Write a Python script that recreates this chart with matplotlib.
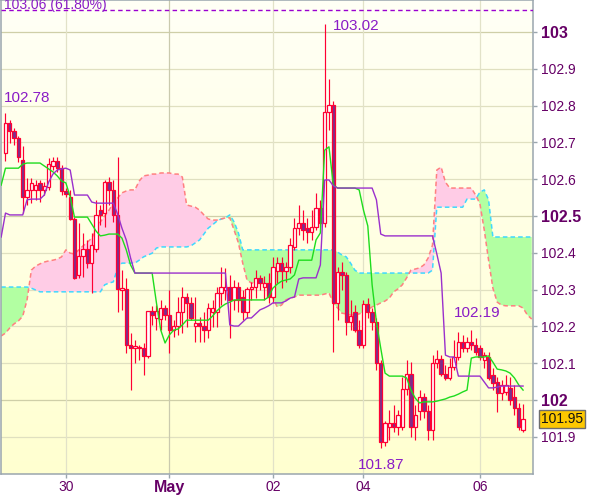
import numpy as np
import matplotlib
matplotlib.use("Agg")
import matplotlib.pyplot as plt
import matplotlib.transforms as mtransforms
from matplotlib.colors import LinearSegmentedColormap

plt.rcParams['font.family'] = ['Liberation Sans', 'DejaVu Sans']

# ---------------- data (hourly bars, index 0..120) ----------------
opens = [102.671, 102.753, 102.731, 102.712, 102.652, 102.552, 102.571, 102.571, 102.590, 102.571,
         102.579, 102.636, 102.649, 102.630, 102.568, 102.552, 102.492, 102.340, 102.391, 102.410,
         102.372, 102.410, 102.516, 102.508, 102.592, 102.571, 102.503, 102.300, 102.302, 102.150,
         102.141, 102.141, 102.141, 102.120, 102.242, 102.223, 102.220, 102.250, 102.231, 102.190,
         102.201, 102.239, 102.280, 102.264, 102.201, 102.209, 102.201, 102.190, 102.239, 102.239,
         102.291, 102.299, 102.307, 102.272, 102.307, 102.280, 102.239, 102.302, 102.307, 102.332,
         102.307, 102.318, 102.280, 102.351, 102.372, 102.351, 102.361, 102.416, 102.467, 102.481,
         102.467, 102.457, 102.470, 102.522, 102.481, 102.783, 102.802, 102.264, 102.348, 102.340,
         102.212, 102.239, 102.190, 102.150, 102.261, 102.239, 102.212, 102.101, 101.886, 101.927,
         101.938, 101.927, 101.927, 102.030, 102.071, 101.927, 101.970, 102.008, 101.970, 101.918,
         102.101, 102.111, 102.071, 102.060, 102.090, 102.117, 102.158, 102.141, 102.158, 102.150,
         102.141, 102.109, 102.117, 102.068, 102.049, 102.019, 102.022, 102.033, 102.008, 101.978,
         101.918]
highs = [102.780, 102.761, 102.739, 102.717, 102.690, 102.603, 102.603, 102.598, 102.598, 102.592,
         102.658, 102.660, 102.660, 102.639, 102.576, 102.571, 102.497, 102.482, 102.454, 102.435,
         102.454, 102.544, 102.530, 102.598, 102.606, 102.598, 102.660, 102.353, 102.332, 102.182,
         102.163, 102.150, 102.155, 102.242, 102.256, 102.258, 102.272, 102.258, 102.299, 102.217,
         102.280, 102.307, 102.291, 102.280, 102.280, 102.226, 102.239, 102.264, 102.272, 102.307,
         102.361, 102.359, 102.340, 102.326, 102.321, 102.299, 102.307, 102.321, 102.353, 102.340,
         102.337, 102.345, 102.389, 102.389, 102.389, 102.375, 102.440, 102.495, 102.530, 102.516,
         102.495, 102.516, 102.563, 102.544, 103.022, 102.872, 102.812, 102.361, 102.375, 102.348,
         102.272, 102.258, 102.217, 102.272, 102.277, 102.250, 102.223, 102.109, 101.943, 101.973,
         101.986, 101.973, 102.063, 102.109, 102.103, 101.986, 102.027, 102.019, 101.986, 102.122,
         102.136, 102.122, 102.095, 102.114, 102.163, 102.185, 102.177, 102.171, 102.190, 102.169,
         102.150, 102.130, 102.130, 102.087, 102.063, 102.054, 102.068, 102.063, 102.041, 101.992,
         101.989]
lows = [102.649, 102.698, 102.693, 102.647, 102.508, 102.530, 102.535, 102.544, 102.538, 102.557,
        102.571, 102.625, 102.620, 102.557, 102.552, 102.489, 102.330, 102.332, 102.334, 102.359,
        102.291, 102.402, 102.476, 102.470, 102.530, 102.484, 102.239, 102.245, 102.128, 102.027,
        102.101, 102.109, 102.068, 102.114, 102.204, 102.190, 102.190, 102.217, 102.128, 102.171,
        102.177, 102.182, 102.198, 102.217, 102.158, 102.158, 102.158, 102.169, 102.198, 102.198,
        102.258, 102.272, 102.169, 102.245, 102.239, 102.217, 102.223, 102.272, 102.277, 102.299,
        102.272, 102.264, 102.264, 102.318, 102.304, 102.321, 102.345, 102.408, 102.448, 102.435,
        102.427, 102.435, 102.462, 102.470, 102.470, 102.734, 102.130, 102.217, 102.299, 102.177,
        102.190, 102.185, 102.141, 102.141, 102.223, 102.190, 102.082, 101.870, 101.875, 101.891,
        101.913, 101.905, 101.918, 102.014, 101.899, 101.891, 101.946, 101.951, 101.891, 101.891,
        102.087, 102.065, 102.054, 102.054, 102.082, 102.109, 102.130, 102.130, 102.136, 102.122,
        102.109, 102.087, 102.054, 102.027, 101.967, 102.000, 102.014, 101.986, 101.959, 101.918,
        101.913]
closes = [102.753, 102.731, 102.712, 102.660, 102.552, 102.571, 102.590, 102.584, 102.571, 102.582,
          102.641, 102.649, 102.630, 102.568, 102.560, 102.492, 102.332, 102.391, 102.410, 102.372,
          102.421, 102.503, 102.503, 102.592, 102.571, 102.503, 102.302, 102.305, 102.150, 102.141,
          102.147, 102.144, 102.120, 102.242, 102.231, 102.242, 102.250, 102.231, 102.190, 102.201,
          102.239, 102.280, 102.264, 102.223, 102.209, 102.201, 102.190, 102.250, 102.250, 102.291,
          102.307, 102.307, 102.272, 102.307, 102.272, 102.239, 102.302, 102.307, 102.332, 102.318,
          102.318, 102.280, 102.361, 102.372, 102.351, 102.361, 102.421, 102.467, 102.481, 102.462,
          102.457, 102.470, 102.522, 102.481, 102.783, 102.802, 102.264, 102.348, 102.340, 102.212,
          102.228, 102.190, 102.150, 102.261, 102.239, 102.212, 102.101, 101.886, 101.938, 101.938,
          101.927, 101.959, 102.030, 102.071, 101.927, 101.959, 102.008, 101.970, 101.918, 102.101,
          102.111, 102.071, 102.060, 102.090, 102.117, 102.158, 102.141, 102.158, 102.150, 102.130,
          102.117, 102.122, 102.060, 102.046, 102.019, 102.041, 102.041, 102.000, 101.978, 101.927,
          101.948]

# Ichimoku cloud (bars -1 .. 122)
senkou_a = [102.307, 102.307, 102.307, 102.307, 102.307, 102.307, 102.307, 102.304, 102.299, 102.294,
            102.294, 102.294, 102.294, 102.294, 102.294, 102.294, 102.294, 102.294, 102.294, 102.294,
            102.294, 102.294, 102.294, 102.294, 102.313, 102.318, 102.321, 102.359, 102.372, 102.372,
            102.372, 102.372, 102.380, 102.389, 102.394, 102.399, 102.413, 102.416, 102.416, 102.416,
            102.416, 102.416, 102.416, 102.416, 102.419, 102.427, 102.435, 102.451, 102.467, 102.476,
            102.486, 102.492, 102.495, 102.503, 102.484, 102.454, 102.408, 102.408, 102.408, 102.408,
            102.408, 102.408, 102.408, 102.408, 102.408, 102.408, 102.408, 102.408, 102.408, 102.408,
            102.408, 102.408, 102.408, 102.408, 102.408, 102.408, 102.408, 102.408, 102.402, 102.394,
            102.389, 102.372, 102.353, 102.345, 102.345, 102.345, 102.345, 102.345, 102.345, 102.345,
            102.345, 102.345, 102.345, 102.345, 102.345, 102.345, 102.345, 102.345, 102.345, 102.345,
            102.353, 102.524, 102.524, 102.524, 102.524, 102.524, 102.524, 102.524, 102.546, 102.546,
            102.546, 102.565, 102.571, 102.544, 102.443, 102.443, 102.443, 102.443, 102.443, 102.443,
            102.443, 102.443, 102.443, 102.443]
senkou_b = [102.174, 102.182, 102.196, 102.207, 102.215, 102.228, 102.272, 102.353, 102.364, 102.370,
            102.375, 102.378, 102.380, 102.383, 102.389, 102.408, 102.399, 102.397, 102.408, 102.419,
            102.429, 102.440, 102.462, 102.484, 102.500, 102.516, 102.535, 102.549, 102.563, 102.568,
            102.571, 102.571, 102.595, 102.609, 102.611, 102.614, 102.614, 102.617, 102.617, 102.617,
            102.614, 102.614, 102.606, 102.530, 102.527, 102.524, 102.516, 102.503, 102.492, 102.489,
            102.489, 102.492, 102.495, 102.495, 102.462, 102.427, 102.372, 102.326, 102.318, 102.318,
            102.318, 102.318, 102.304, 102.277, 102.253, 102.258, 102.272, 102.277, 102.280, 102.285,
            102.285, 102.285, 102.285, 102.285, 102.285, 102.288, 102.291, 102.264, 102.250, 102.236,
            102.234, 102.231, 102.231, 102.234, 102.239, 102.245, 102.253, 102.258, 102.264, 102.269,
            102.277, 102.294, 102.302, 102.313, 102.332, 102.353, 102.356, 102.359, 102.367, 102.386,
            102.421, 102.625, 102.633, 102.592, 102.576, 102.576, 102.576, 102.576, 102.576, 102.576,
            102.557, 102.533, 102.462, 102.380, 102.304, 102.266, 102.258, 102.256, 102.256, 102.256,
            102.256, 102.250, 102.231, 102.220]

# conversion / base lines (bars -1 .. 120)
tenkan = [102.584, 102.630, 102.630, 102.630, 102.630, 102.641, 102.644, 102.644, 102.644, 102.644,
          102.636, 102.628, 102.620, 102.609, 102.595, 102.590, 102.552, 102.497, 102.497, 102.497,
          102.497, 102.478, 102.459, 102.446, 102.448, 102.451, 102.451, 102.451, 102.440, 102.408,
          102.367, 102.345, 102.345, 102.345, 102.345, 102.345, 102.264, 102.190, 102.155, 102.177,
          102.190, 102.193, 102.204, 102.217, 102.217, 102.217, 102.217, 102.217, 102.217, 102.228,
          102.242, 102.253, 102.261, 102.266, 102.272, 102.272, 102.272, 102.272, 102.272, 102.272,
          102.272, 102.272, 102.280, 102.304, 102.315, 102.323, 102.326, 102.329, 102.340, 102.380,
          102.380, 102.380, 102.380, 102.435, 102.454, 102.679, 102.688, 102.584, 102.576, 102.576,
          102.576, 102.576, 102.576, 102.571, 102.516, 102.473, 102.313, 102.212, 102.141, 102.073,
          102.065, 102.065, 102.065, 102.065, 102.060, 102.027, 102.005, 101.992, 101.995, 101.995,
          101.995, 101.997, 102.000, 102.003, 102.008, 102.011, 102.016, 102.022, 102.027, 102.114,
          102.117, 102.117, 102.117, 102.120, 102.103, 102.084, 102.082, 102.079, 102.073, 102.060,
          102.041, 102.027]
kijun = [102.443, 102.508, 102.503, 102.503, 102.503, 102.503, 102.544, 102.546, 102.546, 102.546,
         102.557, 102.592, 102.614, 102.625, 102.628, 102.630, 102.625, 102.557, 102.557, 102.557,
         102.557, 102.538, 102.535, 102.535, 102.535, 102.535, 102.535, 102.505, 102.467, 102.435,
         102.386, 102.345, 102.345, 102.345, 102.345, 102.345, 102.345, 102.345, 102.345, 102.345,
         102.345, 102.345, 102.345, 102.345, 102.345, 102.345, 102.345, 102.345, 102.345, 102.345,
         102.345, 102.345, 102.345, 102.204, 102.201, 102.201, 102.212, 102.223, 102.223, 102.234,
         102.245, 102.250, 102.256, 102.264, 102.264, 102.264, 102.269, 102.277, 102.280, 102.329,
         102.332, 102.332, 102.332, 102.332, 102.367, 102.598, 102.598, 102.582, 102.576, 102.576,
         102.576, 102.576, 102.576, 102.576, 102.576, 102.576, 102.576, 102.544, 102.451, 102.446,
         102.446, 102.446, 102.446, 102.446, 102.446, 102.446, 102.446, 102.446, 102.446, 102.446,
         102.446, 102.397, 102.345, 102.122, 102.117, 102.117, 102.065, 102.065, 102.065, 102.065,
         102.065, 102.065, 102.049, 102.033, 102.033, 102.035, 102.038, 102.038, 102.038, 102.038,
         102.038, 102.038]

y_ticks = [101.9, 102.0, 102.1, 102.2, 102.3, 102.4, 102.5, 102.6, 102.7, 102.8, 102.9, 103.0]
y_labels = ['101.9', '102', '102.1', '102.2', '102.3', '102.4', '102.5', '102.6', '102.7', '102.8', '102.9', '103']
y_bold = ['102', '102.5', '103']
date_bars = [14, 38, 62, 83, 110]
date_labels = ['30', 'May', '02', '04', '06']
date_bold = ['May']

fib_level = 103.06
fib_text = '103.06 (61.80%)'
last_price_text = '101.95'

# ---------------- drawing ----------------
fig = plt.figure(figsize=(6.0, 4.97), dpi=100)
ax = fig.add_axes([1 / 600, 23 / 497, 532 / 600, 474 / 497])
x0, x1 = -1.04, 122.3
y0, y1 = 101.799, 103.087

grad = np.linspace(1, 0, 256).reshape(-1, 1)
cmap = LinearSegmentedColormap.from_list('bg', ['#FFFFD0', '#FFFFF6'])
ax.imshow(grad, extent=[x0, x1, y0, y1], aspect='auto', cmap=cmap, zorder=0,
          origin='upper', vmin=0, vmax=1)

for v, lab in zip(y_ticks, y_labels):
    ax.axhline(v, color='#CFCFA8' if lab in y_bold else '#E0E0C0', lw=0.9, zorder=0.5)
for b, lab in zip(date_bars, date_labels):
    ax.axvline(b, color='#CACAAE' if lab in date_bold else '#E2E2C8', lw=0.9, zorder=0.5)

xc = np.arange(-1, -1 + len(senkou_a))
A = np.array(senkou_a)
B = np.array(senkou_b)
ax.fill_between(xc, A, B, where=A >= B, interpolate=True, color='#B2FFA2', lw=0, zorder=1)
ax.fill_between(xc, A, B, where=B >= A, interpolate=True, color='#FFCCE6', lw=0, zorder=1)
ax.plot(xc, A, color='#3FD8FF', lw=1.1, dashes=(3, 2), zorder=2)
ax.plot(xc, B, color='#FF8080', lw=1.1, dashes=(3, 2), zorder=2)

o = np.array(opens); h = np.array(highs); l = np.array(lows); c = np.array(closes)
xb = np.arange(len(c))
up = c >= o
ax.vlines(xb, l, h, color='#FF0033', lw=0.85, zorder=3)
face = np.where(up, '#FFFFFF', '#7A2E8E')
ax.bar(xb, np.maximum(np.abs(c - o), 0.0012), bottom=np.minimum(o, c), width=0.78,
       color=face, edgecolor='#FF0033', linewidth=0.9, zorder=3.2)

xl = np.arange(-1, -1 + len(tenkan))
ax.plot(xl, tenkan, color='#1EDC1E', lw=1.0, zorder=4)
ax.plot(xl, kijun, color='#9A30CC', lw=1.0, zorder=4.1)

ann = '#8A1CC6'
ax.axhline(fib_level, color='#9B00D0', lw=1.0, dashes=(3.2, 2.4), zorder=5)
ax.text(-0.3, 103.0625, fib_text, fontsize=10, color=ann, va='baseline', ha='left',
        clip_on=False, zorder=6)
ax.text(-0.27, 102.810, '102.78', fontsize=11, color=ann, va='baseline', zorder=6)
ax.text(75.9, 103.005, '103.02', fontsize=11, color=ann, va='baseline', zorder=6)
ax.text(81.6, 101.812, '101.87', fontsize=11, color=ann, va='baseline', zorder=6)
ax.text(104.05, 102.226, '102.19', fontsize=11, color=ann, va='baseline', zorder=6)

ax.set_xlim(x0, x1)
ax.set_ylim(y0, y1)

ax.yaxis.tick_right()
ax.set_yticks(y_ticks)
ax.set_yticklabels(y_labels)
ax.set_xticks(date_bars)
ax.set_xticklabels(date_labels)
ax.tick_params(axis='y', length=3, width=1, color='#9AA6AE', pad=3, labelsize=10,
               labelcolor='#660066')
ax.tick_params(axis='x', length=3, width=1, color='#9AA6AE', pad=1.5, labelsize=10,
               labelcolor='#660066')
for t in ax.get_yticklabels():
    if t.get_text() in y_bold:
        t.set_fontweight('bold'); t.set_fontsize(11.5)
for t in ax.get_xticklabels():
    if t.get_text() in date_bold:
        t.set_fontweight('bold'); t.set_fontsize(11.5)

for s in ax.spines.values():
    s.set_color('#9AA6AE'); s.set_linewidth(1.1)

trans = mtransforms.blended_transform_factory(ax.transAxes, ax.transData)
ax.text(1.0155, closes[-1], last_price_text, transform=trans, fontsize=10, color='#111111',
        va='center', ha='left', clip_on=False, zorder=7,
        bbox=dict(boxstyle='square,pad=0.15', fc='#FDC800', ec='#6E6E6E', lw=1))

fig.savefig('out.png', dpi=100)
